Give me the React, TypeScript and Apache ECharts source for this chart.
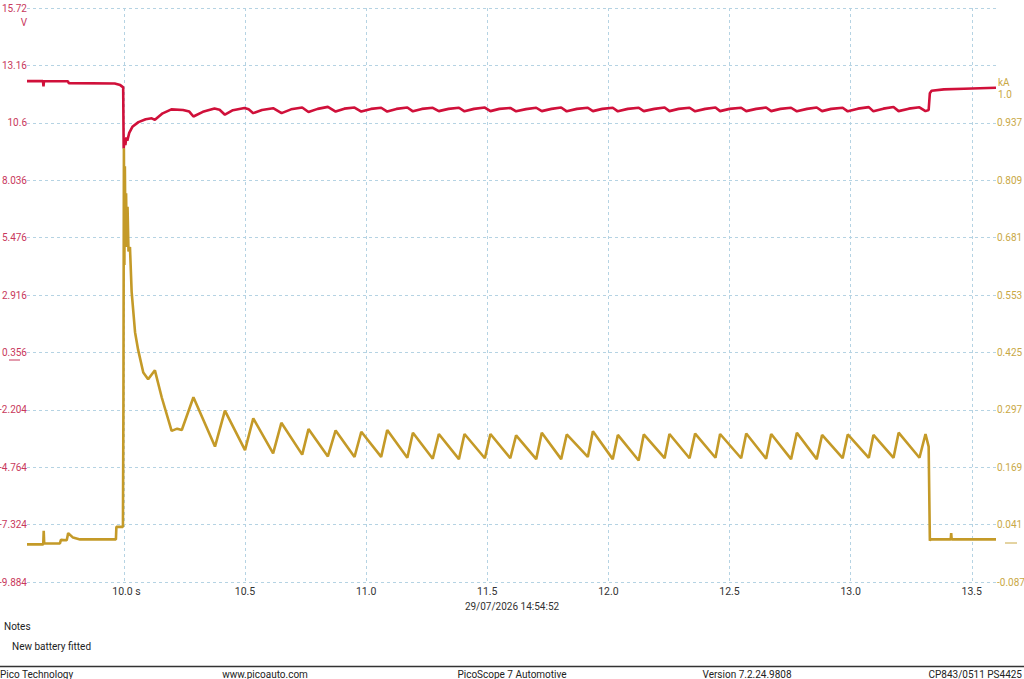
import React, { useRef, useEffect } from "react";
import * as echarts from "echarts";

// time axis (s)
const timeTicks = [10.0, 10.5, 11.0, 11.5, 12.0, 12.5, 13.0, 13.5];
// channel A, volts (left)
const voltTicks = [-9.884, -7.324, -4.764, -2.204, 0.356, 2.916, 5.476, 8.036, 10.6, 13.16, 15.72];
// channel B, kA (right)
const ampTicks = [-0.087, 0.041, 0.169, 0.297, 0.425, 0.553, 0.681, 0.809, 0.937];

// battery voltage [t, V]
const voltageTrace: [number, number][] = [
  [9.6, 12.46], [9.666, 12.46], [9.668, 12.22], [9.67, 12.45], [9.769, 12.45], [9.772, 12.37],
  [9.962, 12.35], [9.985, 12.28], [9.997, 12.18], [9.999, 9.45], [10.003, 9.85], [10.006, 9.6],
  [10.01, 9.95], [10.014, 9.8], [10.022, 10.15], [10.035, 10.42], [10.06, 10.63], [10.09, 10.76],
  [10.115, 10.8], [10.128, 10.73], [10.16, 11.02], [10.196, 11.2], [10.244, 11.17], [10.27, 11.1],
  [10.287, 10.88], [10.326, 11.09], [10.374, 11.24], [10.395, 11.18], [10.417, 10.96], [10.45, 11.16],
  [10.498, 11.26], [10.515, 11.2], [10.534, 11.03], [10.57, 11.17], [10.616, 11.25], [10.651, 11.03],
  [10.69, 11.2], [10.736, 11.28], [10.762, 11.08], [10.8, 11.22], [10.842, 11.31], [10.874, 11.1],
  [10.91, 11.23], [10.952, 11.28], [10.98, 11.1], [11.02, 11.22], [11.062, 11.27], [11.087, 11.1],
  [11.125, 11.22], [11.17, 11.28], [11.193, 11.11], [11.23, 11.22], [11.275, 11.27], [11.3, 11.12],
  [11.34, 11.22], [11.383, 11.27], [11.406, 11.11], [11.445, 11.22], [11.49, 11.28], [11.513, 11.12],
  [11.55, 11.22], [11.595, 11.26], [11.619, 11.11], [11.66, 11.21], [11.702, 11.27], [11.725, 11.12],
  [11.765, 11.22], [11.805, 11.28], [11.828, 11.11], [11.87, 11.22], [11.915, 11.27], [11.936, 11.12],
  [11.975, 11.22], [12.018, 11.27], [12.039, 11.11], [12.08, 11.22], [12.125, 11.27], [12.146, 11.12],
  [12.19, 11.22], [12.232, 11.28], [12.252, 11.12], [12.29, 11.22], [12.335, 11.27], [12.358, 11.11],
  [12.4, 11.22], [12.442, 11.28], [12.461, 11.12], [12.5, 11.22], [12.548, 11.27], [12.569, 11.12],
  [12.61, 11.22], [12.651, 11.28], [12.672, 11.12], [12.71, 11.22], [12.754, 11.27], [12.778, 11.11],
  [12.82, 11.22], [12.86, 11.28], [12.882, 11.12], [12.92, 11.22], [12.967, 11.27], [12.988, 11.11],
  [13.03, 11.23], [13.075, 11.3], [13.094, 11.11], [13.135, 11.23], [13.177, 11.3], [13.198, 11.12],
  [13.24, 11.23], [13.284, 11.29], [13.309, 11.12], [13.322, 11.17], [13.327, 11.92], [13.334, 12.03],
  [13.385, 12.09], [13.468, 12.12], [13.6, 12.16],
];

// starter current [t, kA]
const currentTrace: [number, number][] = [
  [9.6, -0.003], [9.667, -0.003], [9.669, 0.027], [9.671, -0.001], [9.736, -0.001], [9.74, 0.007],
  [9.764, 0.006], [9.77, 0.022], [9.79, 0.012], [9.819, 0.008], [9.967, 0.008], [9.969, 0.036],
  [9.996, 0.036], [9.998, 0.3], [10.0, 0.88], [10.002, 0.62], [10.004, 0.84], [10.006, 0.7],
  [10.009, 0.78], [10.012, 0.66], [10.015, 0.75], [10.019, 0.65], [10.025, 0.66], [10.032, 0.56],
  [10.046, 0.47], [10.059, 0.43], [10.08, 0.38], [10.1, 0.365], [10.128, 0.385], [10.156, 0.325],
  [10.197, 0.25], [10.22, 0.255], [10.239, 0.252], [10.287, 0.325], [10.376, 0.215], [10.417, 0.295],
  [10.5, 0.207], [10.534, 0.278], [10.616, 0.2], [10.65, 0.268], [10.736, 0.197], [10.762, 0.254],
  [10.842, 0.193], [10.874, 0.251], [10.952, 0.192], [10.98, 0.248], [11.062, 0.192], [11.087, 0.252],
  [11.17, 0.19], [11.193, 0.246], [11.275, 0.188], [11.3, 0.243], [11.383, 0.187], [11.406, 0.243],
  [11.49, 0.189], [11.513, 0.243], [11.595, 0.189], [11.619, 0.24], [11.702, 0.187], [11.725, 0.246],
  [11.805, 0.187], [11.828, 0.242], [11.915, 0.192], [11.936, 0.249], [12.018, 0.187], [12.039, 0.241],
  [12.125, 0.184], [12.146, 0.242], [12.232, 0.189], [12.252, 0.243], [12.335, 0.189], [12.358, 0.244],
  [12.442, 0.19], [12.461, 0.243], [12.548, 0.189], [12.569, 0.244], [12.651, 0.188], [12.672, 0.243],
  [12.754, 0.187], [12.778, 0.246], [12.86, 0.187], [12.882, 0.241], [12.967, 0.189], [12.988, 0.242],
  [13.075, 0.19], [13.094, 0.241], [13.177, 0.19], [13.198, 0.246], [13.284, 0.19], [13.309, 0.243],
  [13.322, 0.215], [13.327, 0.005], [13.33, 0.008], [13.413, 0.008], [13.415, 0.022], [13.417, 0.008],
  [13.6, 0.008],
];

const RED = "#d0103a";
const GOLD = "#c49a28";
const RED_LABEL = "#c8385c";
const GOLD_LABEL = "#c9a845";
const FONT = "Roboto";
const GRID = "#b5d3e3";

const txt = (text: string, x: number, y: number, align: string, fill = "#222", size = 10) => ({
  type: "text",
  x,
  y,
  silent: true,
  style: {
    text,
    fill,
    font: `${size}px ${FONT}`,
    align,
    textAlign: align,
    verticalAlign: "middle",
    textVerticalAlign: "middle",
  },
});

const App = () => {
  const chartRef = useRef<HTMLDivElement>(null);

  useEffect(() => {
    const chart = echarts.init(chartRef.current, null, { renderer: "svg" });
    chart.setOption({
      animation: false,
      backgroundColor: "#ffffff",
      textStyle: { fontFamily: FONT },
      grid: { left: 27, right: 28, top: 8, bottom: 97, outerBoundsMode: "none" },
      xAxis: {
        type: "value",
        min: 9.6,
        max: 13.6,
        axisLine: { show: false },
        axisTick: { show: false, customValues: timeTicks },
        axisLabel: {
          customValues: timeTicks,
          margin: 4,
          fontSize: 10.5,
          color: "#333",
          fontFamily: FONT,
          formatter: (v: number) => (v === timeTicks[0] ? "  " + v.toFixed(1) + " s" : v.toFixed(1)),
        },
        splitLine: { show: true, lineStyle: { color: GRID, type: [3, 3], width: 1 } },
      },
      yAxis: [
        {
          type: "value",
          min: voltTicks[0],
          max: voltTicks[voltTicks.length - 1],
          position: "left",
          axisLine: { show: false },
          axisTick: { show: false, customValues: voltTicks },
          axisLabel: {
            customValues: voltTicks,
            margin: 0,
            fontSize: 10,
            color: RED_LABEL,
            fontFamily: FONT,
            formatter: (v: number) => String(v),
          },
          splitLine: { show: true, lineStyle: { color: GRID, type: [3, 3], width: 1 } },
        },
        {
          type: "value",
          min: -0.087,
          max: 1.193,
          position: "right",
          axisLine: { show: false },
          axisTick: { show: false, customValues: ampTicks },
          axisLabel: {
            customValues: ampTicks,
            margin: 1,
            fontSize: 10,
            color: GOLD_LABEL,
            fontFamily: FONT,
            formatter: (v: number) => String(v),
          },
          splitLine: { show: false },
        },
      ],
      series: [
        {
          name: "A",
          type: "line",
          yAxisIndex: 0,
          data: voltageTrace,
          showSymbol: false,
          lineStyle: { color: RED, width: 2.6 },
          silent: true,
        },
        {
          name: "B",
          type: "line",
          yAxisIndex: 1,
          data: currentTrace,
          showSymbol: false,
          lineStyle: { color: GOLD, width: 2.6 },
          silent: true,
        },
      ],
      graphic: [
        txt("V", 27, 22, "right", RED_LABEL),
        txt("kA", 998, 82, "left", GOLD_LABEL),
        txt("1.0", 998, 94, "left", GOLD_LABEL),
        { type: "line", silent: true, shape: { x1: 9, y1: 360, x2: 20, y2: 360 }, style: { stroke: RED_LABEL, lineWidth: 1 } },
        { type: "line", silent: true, shape: { x1: 1005, y1: 543, x2: 1017, y2: 543 }, style: { stroke: GOLD_LABEL, lineWidth: 1 } },
        txt("29/07/2026 14:54:52", 512, 606, "center", "#333"),
        txt("Notes", 4, 626, "left", "#222"),
        txt("New battery fitted", 12, 646, "left", "#222"),
        { type: "line", silent: true, shape: { x1: 0, y1: 666.5, x2: 1024, y2: 666.5 }, style: { stroke: "#333", lineWidth: 1.5 } },
        txt("Pico Technology", 0, 674, "left"),
        txt("www.picoauto.com", 265, 674, "center"),
        txt("PicoScope 7 Automotive", 512, 674, "center"),
        txt("Version 7.2.24.9808", 747, 674, "center"),
        txt("CP843/0511 PS4425", 1022, 674, "right"),
      ],
    });
    return () => {
      chart.dispose();
    };
  }, []);

  return (
    <div
      ref={chartRef}
      style={{ position: "fixed", left: 0, top: 0, width: 1024, height: 679, background: "#fff" }}
    />
  );
};

export default App;
